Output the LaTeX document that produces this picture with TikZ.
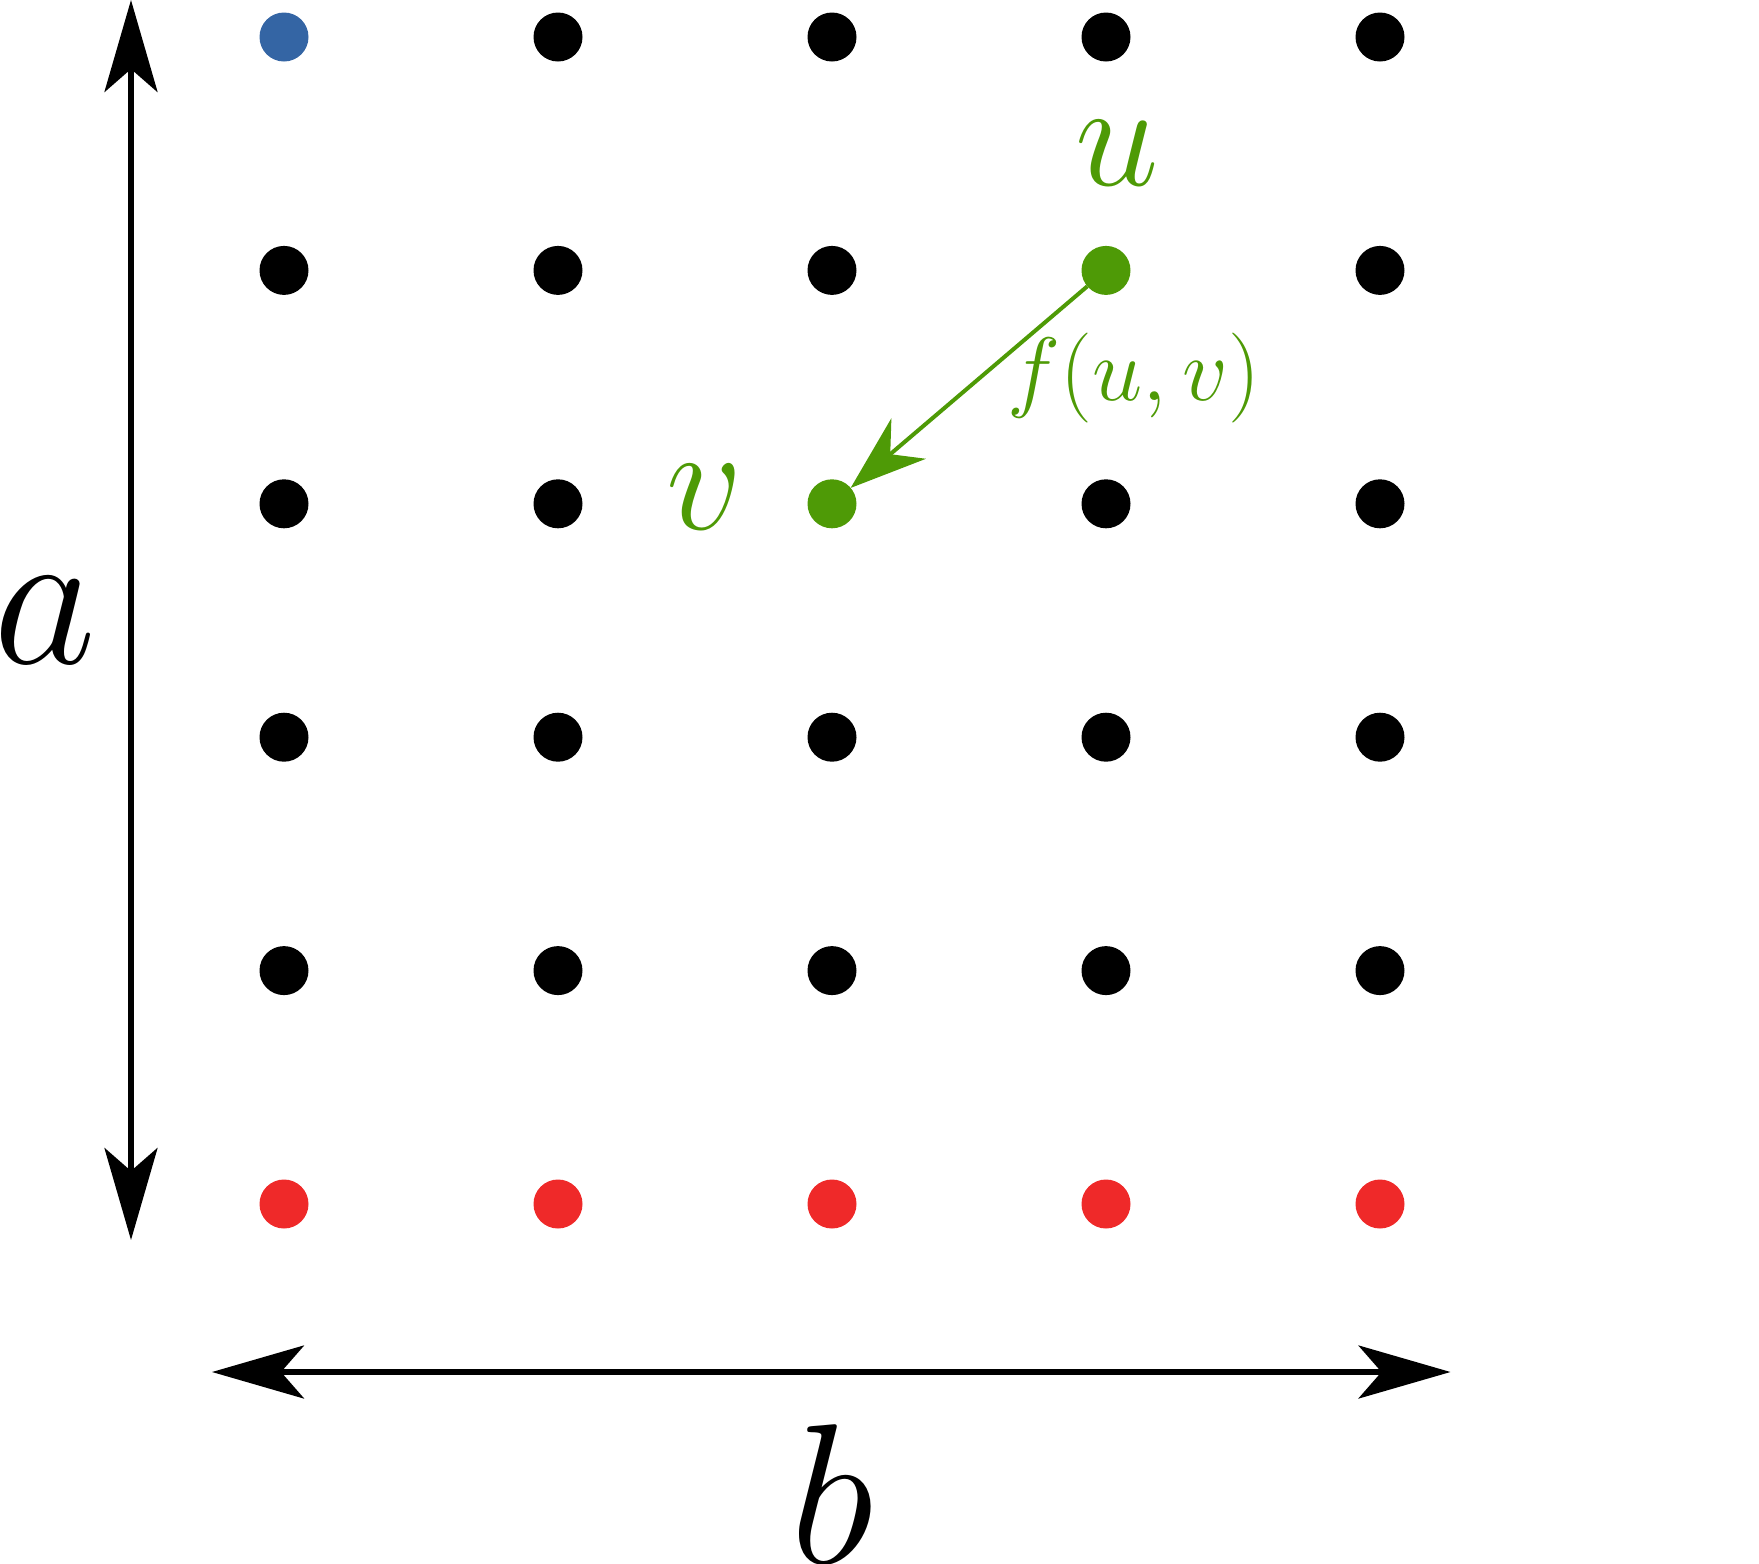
\RequirePackage{fix-cm}
\documentclass[tikz,border=0pt]{standalone}
\usetikzlibrary{arrows.meta}
\definecolor{dotblue}{HTML}{3465A4}
\definecolor{dotgreen}{HTML}{4E9A06}
\definecolor{dotred}{HTML}{EF2929}
\begin{document}
\begin{tikzpicture}[x=0.25pt, y=-0.25pt, line join=round,
    dot/.style={circle, inner sep=0pt, outer sep=0pt, minimum size=12.25pt},
    dim/.style={line width=1.4pt, {Stealth[length=23pt, width=13.25pt, inset=5.75pt]}-{Stealth[length=23pt, width=13.25pt, inset=5.75pt]}},
    flow/.style={dotgreen, line width=1pt, -{Stealth[length=19pt, width=13.25pt, inset=6pt]}},
    biglabel/.style={inner sep=0pt, font=\fontsize{50}{60}\selectfont},
    midlabel/.style={inner sep=0pt, text=dotgreen, font=\fontsize{37.5}{45}\selectfont},
    smalllabel/.style={inner sep=0pt, text=dotgreen, font=\fontsize{22.5}{27}\selectfont}]
    \useasboundingbox (0,0) rectangle (1759,1564);

    % 网格点
    \foreach \c in {0,...,4}
      \foreach \r in {0,...,5} {
        \def\col{black}
        \ifnum\r=5 \def\col{dotred}\fi
        \ifnum\c\r=0 \def\col{dotblue}\fi
        \ifnum\c\r=31 \def\col{dotgreen}\fi
        \ifnum\c\r=22 \def\col{dotgreen}\fi
        \node[dot, fill=\col] (p\c\r) at ({284+274*\c},{37+233.4*\r}) {};
      }

    % 尺寸箭头
    \coordinate (atop) at (131,0);
    \coordinate (abot) at (131,1240);
    \coordinate (bleft) at (212,1372);
    \coordinate (bright) at (1450.5,1372);
    \draw[dim] (atop) -- (abot);
    \draw[dim] (bleft) -- (bright);

    % 流向 u -> v
    \draw[flow] (p31) -- (p22);

    % 标签
    \node[biglabel] (la) at (45,620) {$a$};
    \node[biglabel] (lb) at (832,1494) {$b$};
    \node[midlabel] (lu) at (1117,153) {$u$};
    \node[midlabel] (lv) at (705,497) {$v$};
    \node[smalllabel] (lf) at (1134,378) {$f(u,v)$};
\end{tikzpicture}
\end{document}
